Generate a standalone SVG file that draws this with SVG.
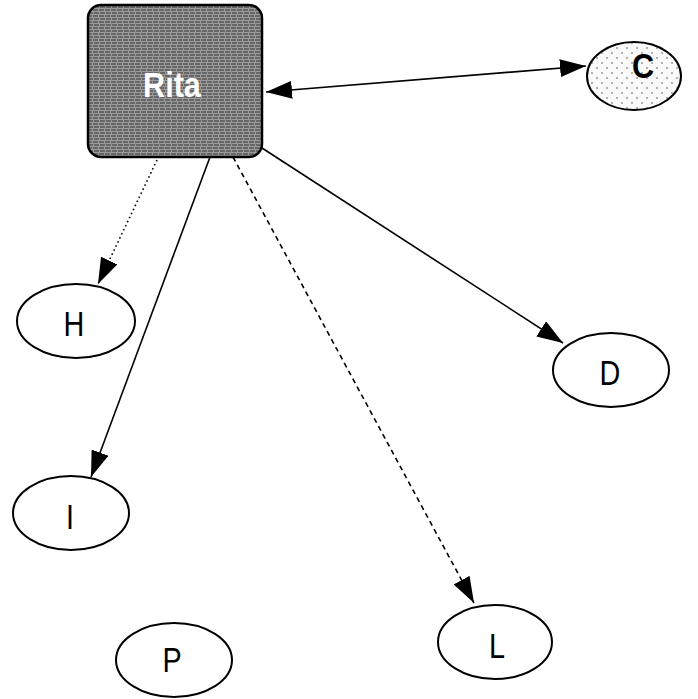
<svg xmlns="http://www.w3.org/2000/svg" width="698" height="699" viewBox="0 0 698 699">
<style>
.lbl{font-family:"Liberation Sans","DejaVu Sans",sans-serif;font-size:36px;fill:#000;text-anchor:middle}
.node{fill:#fff;stroke:#000;stroke-width:2}
.edge{stroke:#000;stroke-width:1.6;fill:none}
</style>
<defs>
<pattern id="dark" width="6" height="6" patternUnits="userSpaceOnUse">
<rect width="6" height="6" fill="#9a9a9a"/>
<path d="M0 1h3M3 4h3M1 3v2M5 0v2" stroke="#333" stroke-width="1"/>
</pattern>
<pattern id="light" width="10" height="10" patternUnits="userSpaceOnUse">
<rect width="10" height="10" fill="#fafafa"/>
<circle cx="2" cy="3" r="0.8" fill="#555"/>
<circle cx="7" cy="8" r="0.8" fill="#555"/>
</pattern>
<marker id="ah" viewBox="0 0 26 18" refX="26" refY="9" markerWidth="26" markerHeight="18" markerUnits="userSpaceOnUse" orient="auto-start-reverse">
<path d="M0 0L26 9L0 18z" fill="#000"/>
</marker>
</defs>
<g id="edges">
<line class="edge" x1="266" y1="92" x2="586" y2="66" marker-start="url(#ah)" marker-end="url(#ah)"/>
<line class="edge" x1="157" y1="160" x2="98" y2="284" stroke-dasharray="1.5 3" marker-end="url(#ah)"/>
<line class="edge" x1="210" y1="157" x2="91" y2="477" marker-end="url(#ah)"/>
<line class="edge" x1="233" y1="157" x2="474" y2="603" stroke-dasharray="5 4" marker-end="url(#ah)"/>
<line class="edge" x1="262" y1="148" x2="563" y2="343" marker-end="url(#ah)"/>
</g>
<g id="Rita">
<rect x="88" y="5" width="174" height="152" rx="13" fill="url(#dark)" stroke="#000" stroke-width="2.5"/>
<text class="lbl" transform="translate(172 97) scale(0.85 1)" style="fill:#fff;font-weight:bold">Rita</text>
</g>
<g id="C">
<ellipse cx="634" cy="76" rx="47" ry="34" class="node" style="fill:url(#light)"/>
<text class="lbl" transform="translate(643 78) scale(0.85 1)" style="font-weight:bold">C</text>
</g>
<g id="H">
<ellipse cx="76" cy="321" rx="59" ry="37" class="node"/>
<text class="lbl" transform="translate(74 336) scale(0.8 1)">H</text>
</g>
<g id="D">
<ellipse cx="611" cy="370" rx="58" ry="37" class="node"/>
<text class="lbl" transform="translate(610 385) scale(0.8 1)">D</text>
</g>
<g id="I">
<ellipse cx="71" cy="513" rx="58" ry="37" class="node"/>
<text class="lbl" transform="translate(70 529) scale(0.8 1)">I</text>
</g>
<g id="L">
<ellipse cx="495" cy="642" rx="57" ry="37" class="node"/>
<text class="lbl" transform="translate(497 658) scale(0.8 1)">L</text>
</g>
<g id="P">
<ellipse cx="174" cy="660" rx="58" ry="37" class="node"/>
<text class="lbl" transform="translate(172 672) scale(0.8 1)">P</text>
</g>
</svg>
